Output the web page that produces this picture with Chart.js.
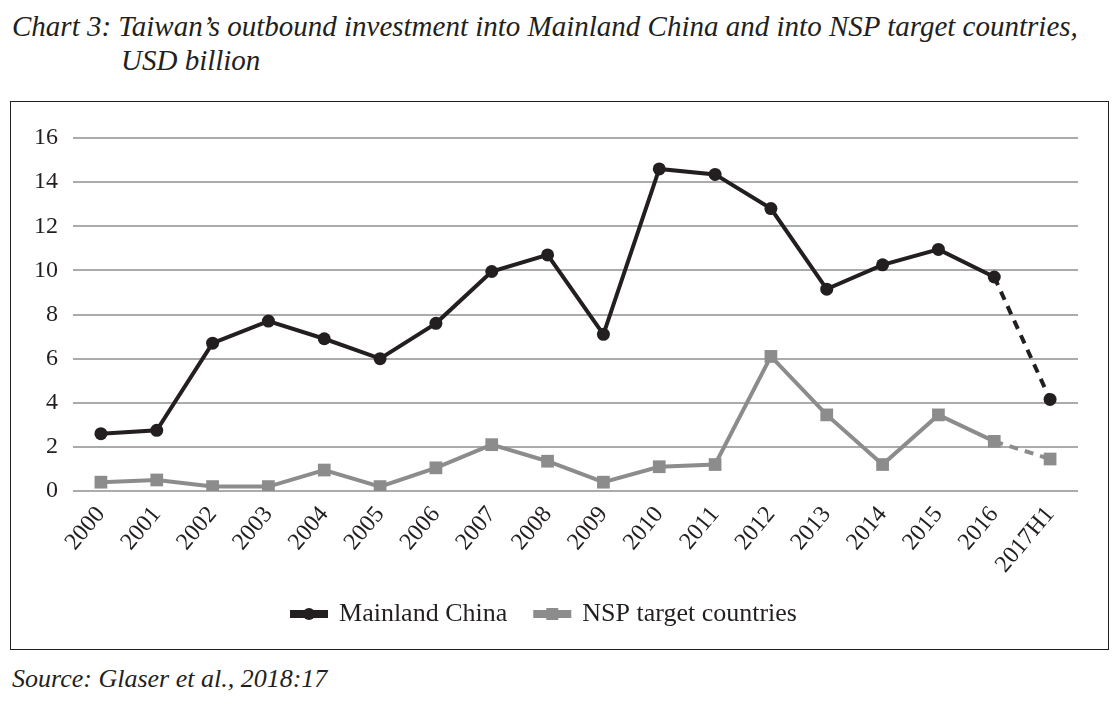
<!DOCTYPE html>
<html>
<head>
<meta charset="utf-8">
<script src="https://cdn.jsdelivr.net/npm/chart.js@4.4.1/dist/chart.umd.min.js"></script>
<style>
  body { margin: 0; background: #fff; width: 1118px; height: 707px; position: relative; overflow: hidden; }
  .title { position: absolute; font-family: "Liberation Serif", serif; font-style: italic; font-size: 29px; color: #231f20; white-space: nowrap; }
  #box { position: absolute; left: 10px; top: 101px; width: 1097px; height: 547px; border: 1px solid #231f20; }
  #box canvas { display: block; }
</style>
</head>
<body>
<div class="title" style="left:12px; top:10px;">Chart 3: Taiwan’s outbound investment into Mainland China and into NSP target countries,</div>
<div class="title" style="left:121px; top:44px;">USD billion</div>
<div id="box"><canvas id="lineChart" width="1097" height="547"></canvas></div>
<div class="title" style="left:12px; top:664px; font-size:26px;">Source: Glaser et al., 2018:17</div>

<script>
// Categories and series (USD billion)
const years = ['2000', '2001', '2002', '2003', '2004', '2005', '2006', '2007', '2008',
               '2009', '2010', '2011', '2012', '2013', '2014', '2015', '2016', '2017H1'];
const mainlandChina = [2.6, 2.75, 6.7, 7.7, 6.9, 6.0, 7.6, 9.95, 10.7,
                       7.1, 14.6, 14.35, 12.8, 9.15, 10.25, 10.95, 9.7, 4.15];
const nspCountries = [0.4, 0.5, 0.2, 0.2, 0.95, 0.2, 1.05, 2.1, 1.35,
                      0.4, 1.1, 1.2, 6.1, 3.45, 1.2, 3.45, 2.25, 1.45];
const yTicks = [0, 2, 4, 6, 8, 10, 12, 14, 16];

const serif = '"Liberation Serif", "DejaVu Serif", serif';
const black = '#231f20';
const grey = '#8c8c8c';

// last segment (2016 -> 2017H1) is dashed, since it's half-year data
const dashLast = ctx => ctx.p1DataIndex === years.length - 1 ? [9, 7] : undefined;

// draws the marker on top of the legend line
const legendMarkers = {
    id: 'legendMarkers',
    afterDraw(chart) {
        const legend = chart.legend;
        if (!legend || !legend.legendHitBoxes) return;
        const ctx = chart.ctx;
        const boxW = legend.options.labels.boxWidth;
        legend.legendHitBoxes.forEach((hb, i) => {
            const cx = hb.left + boxW / 2;
            const cy = hb.top + hb.height / 2;
            ctx.save();
            ctx.fillStyle = i === 0 ? black : grey;
            ctx.beginPath();
            if (i === 0) {
                ctx.arc(cx, cy, 6, 0, Math.PI * 2);
            } else {
                ctx.rect(cx - 6, cy - 6, 12, 12);
            }
            ctx.fill();
            ctx.restore();
        });
    }
};

const ctxLine = document.getElementById('lineChart').getContext('2d');
const lineChart = new Chart(ctxLine, {
    type: 'line',
    data: {
        labels: years,
        datasets: [{
            label: 'Mainland China',
            data: mainlandChina,
            borderColor: black,
            backgroundColor: black,
            borderWidth: 4,
            pointStyle: 'circle',
            pointRadius: 6.5,
            pointBackgroundColor: black,
            pointBorderWidth: 0,
            tension: 0,
            segment: { borderDash: dashLast }
        }, {
            label: 'NSP target countries',
            data: nspCountries,
            borderColor: grey,
            backgroundColor: grey,
            borderWidth: 4,
            pointStyle: 'rect',
            pointRadius: 9,
            pointBackgroundColor: grey,
            pointBorderWidth: 0,
            tension: 0,
            segment: { borderDash: dashLast }
        }]
    },
    options: {
        responsive: false,
        animation: false,
        layout: { padding: { top: 36, right: 30, bottom: 12, left: 0 } },
        plugins: {
            tooltip: { enabled: false },
            legend: {
                position: 'bottom',
                labels: {
                    boxWidth: 34,
                    boxHeight: 4,
                    padding: 28,
                    color: black,
                    font: { family: serif, size: 26 }
                }
            }
        },
        scales: {
            x: {
                offset: true,
                grid: { display: false },
                border: { display: false },
                ticks: {
                    color: black,
                    font: { family: serif, size: 24 },
                    minRotation: 50,
                    maxRotation: 50,
                    padding: 2
                },
                afterFit: scale => { scale.height = 82; }
            },
            y: {
                min: 0,
                max: 16,
                border: { display: false },
                grid: { color: '#ababab', lineWidth: 2, drawTicks: false },
                afterBuildTicks: scale => { scale.ticks = yTicks.map(v => ({ value: v })); },
                ticks: {
                    color: black,
                    font: { family: serif, size: 24 },
                    padding: 15
                },
                afterFit: scale => { scale.width = 62; }
            }
        }
    },
    plugins: [legendMarkers]
});
</script>
</body>
</html>
